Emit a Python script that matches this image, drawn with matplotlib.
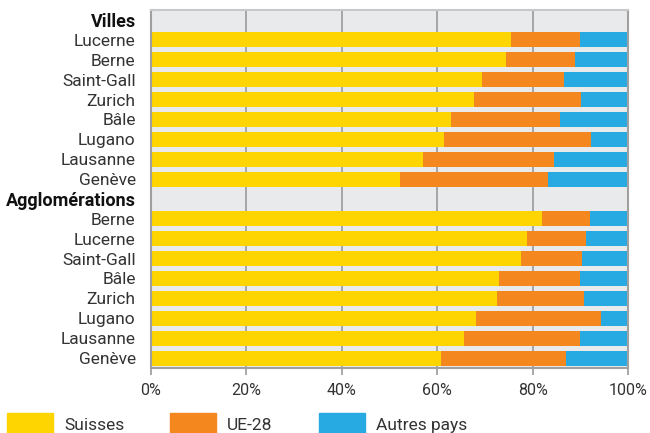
import matplotlib.pyplot as plt
import matplotlib.patches as mpatches
import numpy as np

plt.rcParams['font.family'] = ['Roboto', 'DejaVu Sans']

# Data (share of population, %)
villes = ["Lucerne", "Berne", "Saint-Gall", "Zurich", "Bâle", "Lugano", "Lausanne", "Genève"]
villes_suisses = [75.5, 74.4, 69.4, 67.7, 62.9, 61.4, 57.0, 52.2]
villes_ue28 = [14.4, 14.5, 17.1, 22.4, 22.8, 30.8, 27.4, 31.0]

agglos = ["Berne", "Lucerne", "Saint-Gall", "Bâle", "Zurich", "Lugano", "Lausanne", "Genève"]
agglos_suisses = [82.0, 78.8, 77.6, 73.0, 72.5, 68.1, 65.6, 60.8]
agglos_ue28 = [10.0, 12.3, 12.7, 16.9, 18.2, 26.2, 24.3, 26.1]

groups = ["Villes", "Agglomérations"]
series = ["Suisses", "UE-28", "Autres pays"]
colors = ["#FED500", "#F5871F", "#27AAE1"]

# Build rows: header row, then the members of each group
labels, suisses, ue28, is_header = [], [], [], []
for name, members, s, u in [(groups[0], villes, villes_suisses, villes_ue28),
                            (groups[1], agglos, agglos_suisses, agglos_ue28)]:
    labels.append(name); suisses.append(np.nan); ue28.append(np.nan); is_header.append(True)
    labels += members; suisses += s; ue28 += u; is_header += [False] * len(members)

suisses = np.array(suisses)
ue28 = np.array(ue28)
autres = 100 - suisses - ue28
y = np.arange(len(labels))

fig = plt.figure(figsize=(6.5, 4.33), dpi=100)
ax = fig.add_axes([151 / 650, 1 - 368 / 433, 477 / 650, 358 / 433])
ax.set_facecolor("#E9EAEC")

h = 0.75
ax.barh(y, suisses, height=h, color=colors[0], zorder=2)
ax.barh(y, ue28, left=suisses, height=h, color=colors[1], zorder=2)
ax.barh(y, autres, left=suisses + ue28, height=h, color=colors[2], zorder=2)

ax.set_xlim(0, 100)
ax.set_ylim(len(labels) - 0.5, -0.5)
ax.set_xticks(np.arange(0, 101, 20))
ax.set_xticklabels([f"{v}%" for v in range(0, 101, 20)])
ax.xaxis.grid(True, color="#9A9A9A", linewidth=1.2, zorder=1)
ax.set_axisbelow(True)

ax.set_yticks(y)
ax.set_yticklabels(labels)
ax.tick_params(axis="y", length=0, pad=11, labelsize=12.5, labelcolor="#333333")
for lbl, hd in zip(ax.get_yticklabels(), is_header):
    if hd:
        lbl.set_fontweight("bold")
        lbl.set_fontsize(13)
        lbl.set_color("#111111")
ax.tick_params(axis="x", length=5, width=1.2, color="#9A9A9A", pad=6,
               labelsize=11.5, labelcolor="#333333")

for side in ["top", "right", "bottom", "left"]:
    ax.spines[side].set_color("#A0A0A0")
    ax.spines[side].set_linewidth(1.5)
ax.spines["top"].set_color("#C8C8C8")

# Legend drawn manually at the bottom
xs = [7, 170, 319]
for x0, c, name in zip(xs, colors, series):
    fig.patches.append(mpatches.Rectangle((x0 / 650, 0), 46 / 650, 20 / 433,
                                          transform=fig.transFigure, color=c))
    fig.text((x0 + 57) / 650, 3 / 433, name, fontsize=12.5, color="#333333",
             va="baseline", ha="left")

plt.savefig("out.png", dpi=100)
